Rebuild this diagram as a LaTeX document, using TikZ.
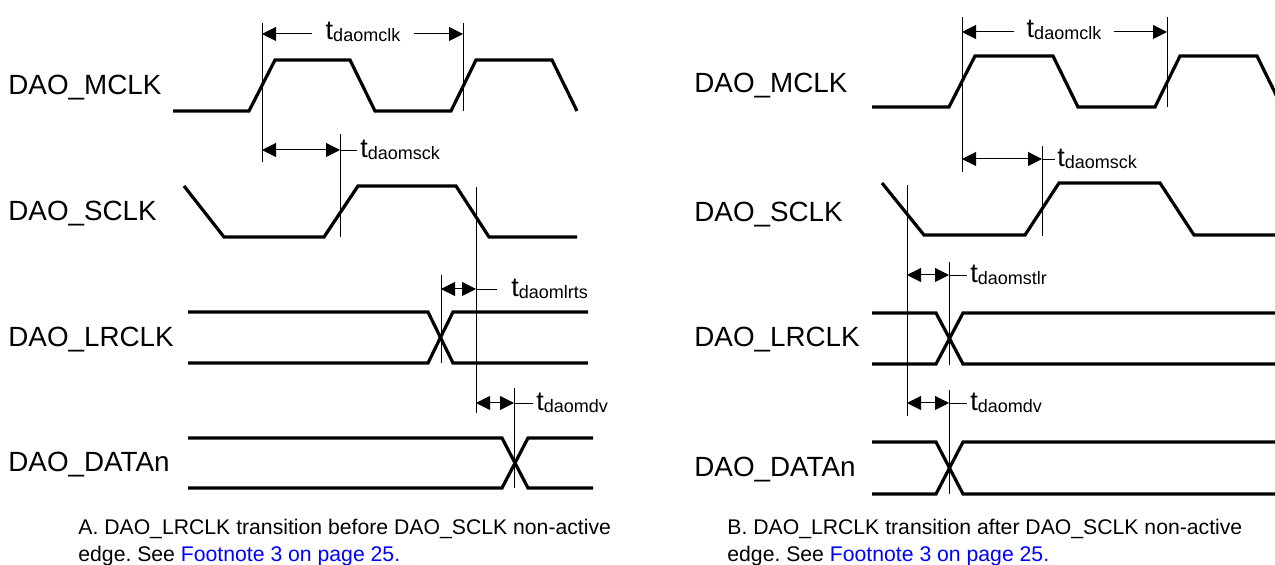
\documentclass[tikz,border=0pt]{standalone}
\usepackage{fontspec}
\setmainfont{Liberation Sans}
\usetikzlibrary{arrows.meta}
\definecolor{linkblue}{RGB}{0,0,255}
\frenchspacing
\newcommand{\tname}[1]{t\raisebox{-1pt}{\fontsize{9}{9}\selectfont #1}}
\tikzset{
  wave/.style={line width=1.6pt},
  guide/.style={line width=0.45pt},
  dimline/.style={line width=0.5pt, {Triangle[length=7pt,width=7pt]}-{Triangle[length=7pt,width=7pt]}},
  tip/.style={line width=0.5pt, -{Triangle[length=7pt,width=7pt]}},
  sig/.style={anchor=base west, inner sep=0pt, font=\fontsize{13.9}{16}\selectfont},
  tlabel/.style={inner sep=0pt, font=\fontsize{13.5}{16}\selectfont},
  caption/.style={anchor=base west, inner sep=0pt, font=\fontsize{10.6}{13.5}\selectfont}
}
\begin{document}
\begin{tikzpicture}[x=0.5pt, y=-0.5pt]
    \useasboundingbox (0,0) rectangle (1275,565);
    \clip (0,0) rectangle (1275,565);
    % A: LRCLK before SCLK edge
    \node[sig] (lmclk) at (8,95) {DAO\_MCLK};
    \node[sig] (lsclk) at (8,221) {DAO\_SCLK};
    \node[sig] (llrclk) at (8,347) {DAO\_LRCLK};
    \node[sig] (ldata) at (8,472) {DAO\_DATAn};
    \draw[wave] (173,111) -- (249,111) -- (275,60) -- (350,60) -- (375,111) -- (451,111) -- (476,60) -- (552,60) -- (577,111);
    \draw[wave] (184,186) -- (224,237) -- (324,237) -- (358,186) -- (456,186) -- (489,237) -- (577,237);
    \draw[wave] (188,312) -- (428,312) -- (453,363) -- (588,363);
    \draw[wave] (188,363) -- (428,363) -- (453,312) -- (588,312);
    \draw[wave] (188,438) -- (502,438) -- (528,488) -- (593,488);
    \draw[wave] (188,488) -- (502,488) -- (528,438) -- (593,438);
    \draw[guide] (262,23) -- (262,162);
    \draw[guide] (463,23) -- (463,111);
    \draw[guide] (340,134) -- (340,237);
    \draw[guide] (476,187) -- (476,413);
    \draw[guide] (441,275) -- (441,363);
    \draw[guide] (514,388) -- (514,488);
    \coordinate (la1) at (262,34);
    \coordinate (la2) at (463,34);
    \node[tlabel, inner xsep=6.5pt, anchor=base] (lclk) at (363,40) {\tname{daomclk}};
    \draw[tip] (lclk.west |- la1) -- (la1);
    \draw[tip] (lclk.east |- la2) -- (la2);
    \coordinate (lb1) at (262,150);
    \coordinate (lb2) at (340,150);
    \draw[dimline] (lb1) -- (lb2);
    \node[tlabel, inner xsep=1.5pt, anchor=west] (lsck) at (357,150) {\tname{daomsck}};
    \draw[guide] (lb2) -- (lsck);
    \coordinate (lc1) at (441,289);
    \coordinate (lc2) at (476,289);
    \draw[dimline] (lc1) -- (lc2);
    \node[tlabel, inner xsep=7pt, anchor=west] (llrts) at (497,289) {\tname{daomlrts}};
    \draw[guide] (lc2) -- (llrts);
    \coordinate (ld1) at (476,403);
    \coordinate (ld2) at (514,403);
    \draw[dimline] (ld1) -- (ld2);
    \node[tlabel, inner xsep=1.5pt, anchor=west] (ldv) at (533,403) {\tname{daomdv}};
    \draw[guide] (ld2) -- (ldv);
    \node[caption] (lcap1) at (78,535) {A. DAO\_LRCLK transition before DAO\_SCLK non-active};
    \node[caption] (lcap2) at (78,562) {edge. See \textcolor{linkblue}{Footnote 3 on page 25.}};
    % B: LRCLK after SCLK edge
    \node[sig] (rmclk) at (694,93) {DAO\_MCLK};
    \node[sig] (rsclk) at (694,222) {DAO\_SCLK};
    \node[sig] (rlrclk) at (694,347) {DAO\_LRCLK};
    \node[sig] (rdata) at (694,477) {DAO\_DATAn};
    \draw[wave] (872,107) -- (949,107) -- (975,56) -- (1053,56) -- (1078,107) -- (1155,107) -- (1180,56) -- (1257,56) -- (1282,107);
    \draw[wave] (882,183) -- (924,235) -- (1025,235) -- (1059,183) -- (1160,183) -- (1194,235) -- (1290,235);
    \draw[wave] (872,313) -- (936,313) -- (963,364) -- (1290,364);
    \draw[wave] (872,364) -- (936,364) -- (963,313) -- (1290,313);
    \draw[wave] (872,442) -- (936,442) -- (963,494) -- (1290,494);
    \draw[wave] (872,494) -- (936,494) -- (963,442) -- (1290,442);
    \draw[guide] (962,17) -- (962,172);
    \draw[guide] (1167,17) -- (1167,107);
    \draw[guide] (1042,146) -- (1042,236);
    \draw[guide] (907,185) -- (907,416);
    \draw[guide] (949,262) -- (949,365);
    \draw[guide] (949,390) -- (949,494);
    \coordinate (ra1) at (962,32);
    \coordinate (ra2) at (1167,32);
    \node[tlabel, inner xsep=6pt, anchor=base] (rclk) at (1064,38) {\tname{daomclk}};
    \draw[tip] (rclk.west |- ra1) -- (ra1);
    \draw[tip] (rclk.east |- ra2) -- (ra2);
    \coordinate (rb1) at (962,159);
    \coordinate (rb2) at (1042,159);
    \draw[dimline] (rb1) -- (rb2);
    \node[tlabel, inner xsep=1pt, anchor=west] (rsck) at (1055,159) {\tname{daomsck}};
    \draw[guide] (rb2) -- (rsck);
    \coordinate (rc1) at (907,275);
    \coordinate (rc2) at (949,275);
    \draw[dimline] (rc1) -- (rc2);
    \node[tlabel, inner xsep=1.5pt, anchor=west] (rstlr) at (967,275) {\tname{daomstlr}};
    \draw[guide] (rc2) -- (rstlr);
    \coordinate (rd1) at (907,403);
    \coordinate (rd2) at (949,403);
    \draw[dimline] (rd1) -- (rd2);
    \node[tlabel, inner xsep=1.5pt, anchor=west] (rdv) at (967,403) {\tname{daomdv}};
    \draw[guide] (rd2) -- (rdv);
    \node[caption] (rcap1) at (727,535) {B. DAO\_LRCLK transition after DAO\_SCLK non-active};
    \node[caption] (rcap2) at (727,562) {edge. See \textcolor{linkblue}{Footnote 3 on page 25.}};
\end{tikzpicture}
\end{document}
